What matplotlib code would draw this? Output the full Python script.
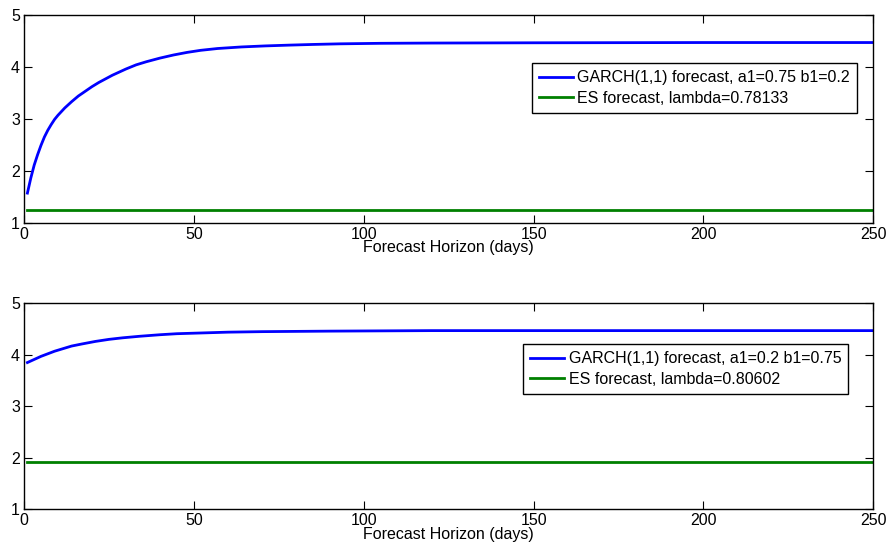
import numpy as np
import matplotlib.pyplot as plt

plt.rcParams['font.family'] = ['Liberation Sans', 'DejaVu Sans']
plt.rcParams['font.size'] = 11.5

# forecast horizon (days) and GARCH(1,1) forecasts, a1=0.75 b1=0.2
days_top = [1, 2, 3, 4, 5, 6, 7, 8, 9, 10, 11, 12, 13, 14, 16, 18, 20, 22,
            24, 26, 28, 30, 33, 36, 40, 44, 48, 52, 57, 64, 71, 78, 85, 93,
            105, 120, 150, 200, 250]
garch_top = [1.57, 1.86, 2.11, 2.31, 2.49, 2.65, 2.78, 2.89, 2.99, 3.07,
             3.14, 3.21, 3.27, 3.33, 3.44, 3.53, 3.62, 3.70, 3.77, 3.84,
             3.90, 3.96, 4.04, 4.10, 4.17, 4.23, 4.28, 4.32, 4.355, 4.385,
             4.405, 4.42, 4.433, 4.445, 4.455, 4.46, 4.465, 4.47, 4.47]
es_top = 1.24

# GARCH(1,1) forecasts, a1=0.2 b1=0.75
days_bot = [1, 3, 5, 7, 9, 11, 14, 17, 21, 25, 29, 34, 40, 45, 50, 55, 60,
            70, 80, 90, 120, 160, 250]
garch_bot = [3.85, 3.91, 3.97, 4.02, 4.07, 4.11, 4.17, 4.21, 4.26, 4.30,
             4.33, 4.36, 4.39, 4.41, 4.42, 4.43, 4.44, 4.45, 4.455, 4.46,
             4.47, 4.47, 4.47]
es_bot = 1.91

labels_top = ["GARCH(1,1) forecast, a1=0.75 b1=0.2", "ES forecast, lambda=0.78133"]
labels_bot = ["GARCH(1,1) forecast, a1=0.2 b1=0.75", "ES forecast, lambda=0.80602"]

fig = plt.figure(figsize=(8.86, 5.5), dpi=100)
ax1 = fig.add_axes([0.0271, 0.5951, 0.9586, 0.3776])
ax2 = fig.add_axes([0.0271, 0.0740, 0.9586, 0.3745])


def draw(ax, days, garch, es, labels, anchor):
  d = np.array(days)
  ax.plot(d, garch, color=(0, 0, 1), lw=2, label=labels[0])
  ax.plot(d[[0, -1]], [es, es], color=(0, 0.5, 0), lw=2, label=labels[1])
  ax.set_xlim(0, 250)
  ax.set_ylim(1, 5)
  ax.set_xticks(range(0, 251, 50))
  ax.set_yticks([1, 2, 3, 4, 5])
  ax.tick_params(direction='in', length=6, width=0.8, top=True, right=True,
                 labelsize=11.5, pad=3)
  for s in ax.spines.values():
    s.set_linewidth(1.0)
  ax.set_xlabel("Forecast Horizon (days)", fontsize=11.5, labelpad=-1)
  leg = ax.legend(loc='upper right', bbox_to_anchor=anchor, borderaxespad=0,
                  fancybox=False, edgecolor='black', framealpha=1,
                  handlelength=2.1, handletextpad=0.3, labelspacing=0.35,
                  borderpad=0.45, fontsize=11.5)
  leg.get_frame().set_linewidth(1.0)


draw(ax1, days_top, garch_top, es_top, labels_top, (0.981, 0.769))
draw(ax2, days_bot, garch_bot, es_bot, labels_bot, (0.9706, 0.8024))

fig.savefig("out.png", dpi=100)
